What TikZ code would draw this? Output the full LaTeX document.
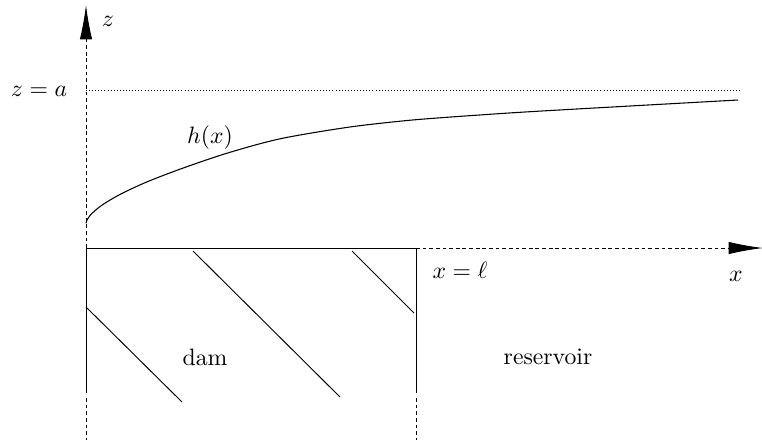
\documentclass[tikz,border=0pt]{standalone}
\usetikzlibrary{arrows.meta}
\begin{document}
\begin{tikzpicture}[x=0.422pt,y=-0.422pt,
  axis/.style={line width=0.4pt,dash pattern=on 1.6pt off 1.2pt},
  wall/.style={line width=0.4pt},
  hatch/.style={line width=0.4pt},
  level/.style={line width=0.4pt,dash pattern=on 0.4pt off 0.9pt},
  big/.style={-{Latex[length=14.5pt,width=5.2pt]}},
  lab/.style={inner sep=0pt}]
\useasboundingbox (0,0) rectangle (762,444);
% coordinates
\coordinate (O) at (86,248);
\coordinate (zbot) at (86,440);
\coordinate (ztip) at (86,5);
\coordinate (lb) at (86,393);
\coordinate (lbd) at (86,398);
\coordinate (L) at (416,248);
\coordinate (rb) at (416,393);
\coordinate (rbd) at (416,398);
\coordinate (rbot) at (416,440);
\coordinate (xtip) at (763,248);
\coordinate (a0) at (86,90);
\coordinate (a1) at (740,90);
% axes
\draw[axis,big] (O) -- (ztip);
\draw[axis] (lbd) -- (zbot);
\draw[axis] (rbd) -- (rbot);
\draw[axis,big] (L) -- (xtip);
% dam
\draw[wall] (lb) -- (O) -- (L) -- (rb);
% hatching
\coordinate (h1a) at (86,307); \coordinate (h1b) at (182,402);
\coordinate (h2a) at (193,251); \coordinate (h2b) at (340,397);
\coordinate (h3a) at (352,251); \coordinate (h3b) at (414,313);
\draw[hatch] (h1a) -- (h1b);
\draw[hatch] (h2a) -- (h2b);
\draw[hatch] (h3a) -- (h3b);
% level z=a
\draw[level] (a0) -- (a1);
% free surface
\draw[line width=0.45pt] plot[smooth] coordinates
  {(86,223.3) (87,220.0) (89,216.8) (92,213.4) (98,208.1) (106,202.5)
   (121,193.9) (146,182.3) (181,168.8) (227,153.2) (280,138.8) (347,127.4)
   (400,121.2) (440,117.8) (520,112.3) (630,106) (738,100)};
% labels
\node[lab] (zl) at (108,21) {$z$};
\node[lab] (za) at (39,91) {$z=a$};
\node[lab] (hl) at (210,138) {$h(x)$};
\node[lab] (xl) at (460,270) {$x=\ell$};
\node[lab] (xx) at (736,276) {$x$};
\node[lab] (dam) at (205,357) {dam};
\node[lab] (res) at (548,357) {reservoir};
\end{tikzpicture}
\end{document}
